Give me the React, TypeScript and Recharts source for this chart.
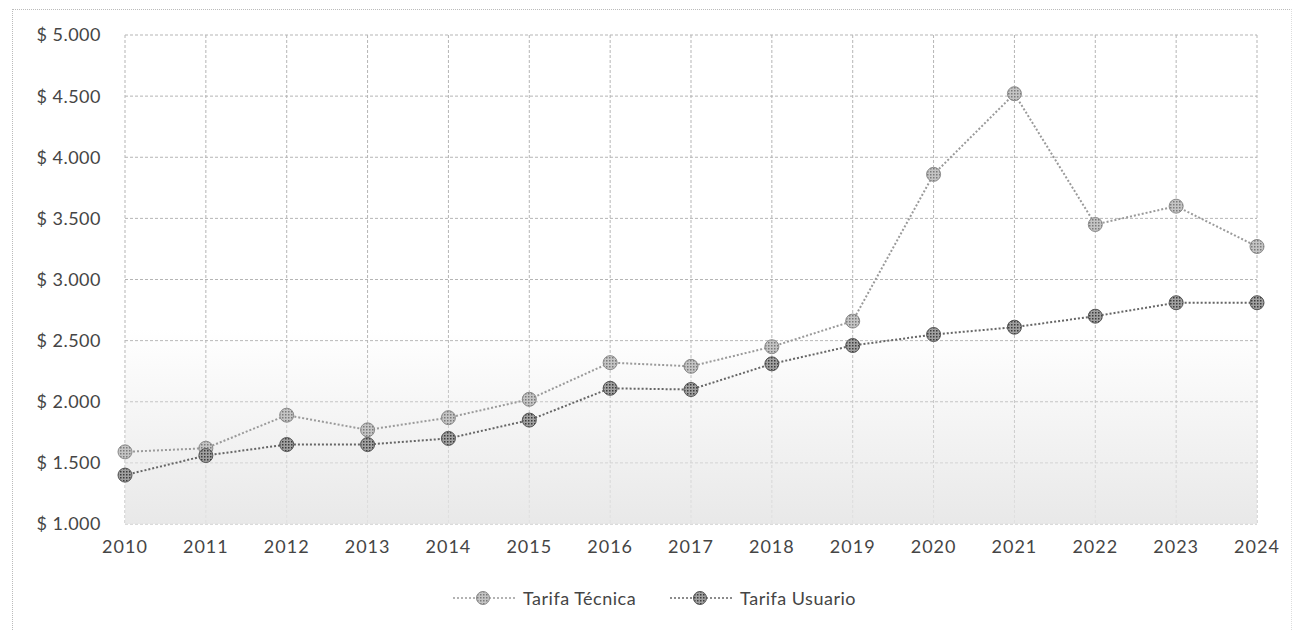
import React from 'react';
import { LineChart, Line, XAxis, YAxis, CartesianGrid, Legend, ReferenceArea } from 'recharts';

const years = ['2010', '2011', '2012', '2013', '2014', '2015', '2016', '2017', '2018', '2019', '2020', '2021', '2022', '2023', '2024'];
const tarifaTecnica = [1590, 1620, 1890, 1770, 1870, 2020, 2320, 2290, 2450, 2660, 3860, 4520, 3450, 3600, 3270];
const tarifaUsuario = [1400, 1560, 1650, 1650, 1700, 1850, 2110, 2100, 2310, 2460, 2550, 2610, 2700, 2810, 2810];
const yTicks = [1000, 1500, 2000, 2500, 3000, 3500, 4000, 4500, 5000];

const data = years.map((year, i) => ({
    year,
    tecnica: tarifaTecnica[i],
    usuario: tarifaUsuario[i],
}));

const FONT = 'Lato, "Liberation Sans", sans-serif';
const TEXT = '#454545';

// pesos with a dot as thousands separator: "$ 5.000"
const fmtPesos = (v: number) => `$ ${Math.floor(v / 1000)}.${String(v % 1000).padStart(3, '0')}`;

const legendItems = [
    { key: 'tecnica', label: 'Tarifa Técnica', fill: 'url(#pTec)', stroke: '#8a8a8a', line: '#9a9a9a' },
    { key: 'usuario', label: 'Tarifa Usuario', fill: 'url(#pUsu)', stroke: '#555', line: '#666' },
];

function LegendContent() {
    return (
        <div style={{ display: 'flex', alignItems: 'center', height: 24, fontFamily: FONT, fontSize: 18, color: TEXT, letterSpacing: 0.5 }}>
            {legendItems.map((item, i) => (
                <div key={item.key} style={{ display: 'flex', alignItems: 'center', marginLeft: i ? 34 : 0 }}>
                    <svg width={64} height={20}>
                        <line x1={0} y1={10} x2={64} y2={10} stroke={item.line} strokeWidth={1.5} strokeDasharray="2 2" />
                        <circle cx={30} cy={10} r={6.5} fill={item.fill} stroke={item.stroke} strokeWidth={1} />
                    </svg>
                    <span style={{ marginLeft: 6 }}>{item.label}</span>
                </div>
            ))}
        </div>
    );
}

export default function App() {
    return (
        <div style={{ position: 'absolute', left: 0, top: 0, width: 1297, height: 630, background: '#fff', fontFamily: FONT }}>
            <div style={{ position: 'absolute', left: 12, top: 9, width: 1278, height: 640, borderTop: '1px dotted #bbb', borderLeft: '1px dotted #bbb', borderRight: '1px dotted #ddd' }} />
            <LineChart width={1297} height={630} data={data} margin={{ top: 35, right: 40, left: 0, bottom: 0 }}>
                <defs>
                    <pattern id="pTec" width={3} height={3} patternUnits="userSpaceOnUse">
                        <rect width={3} height={3} fill="#c4c4c4" />
                        <rect width={1.5} height={1.5} fill="#7a7a7a" />
                    </pattern>
                    <pattern id="pUsu" width={3} height={3} patternUnits="userSpaceOnUse">
                        <rect width={3} height={3} fill="#a0a0a0" />
                        <rect width={1.5} height={1.5} fill="#3c3c3c" />
                    </pattern>
                    <linearGradient id="shade" x1="0" y1="0" x2="0" y2="1">
                        <stop offset="0%" stopColor="#e6e6e6" stopOpacity={0} />
                        <stop offset="100%" stopColor="#e6e6e6" stopOpacity={0.9} />
                    </linearGradient>
                </defs>
                <ReferenceArea y1={1000} y2={2600} fill="url(#shade)" fillOpacity={1} stroke="none" />
                <CartesianGrid stroke="#b5b5b5" strokeDasharray="3 2" />
                <XAxis
                    dataKey="year"
                    height={82}
                    axisLine={false}
                    tickLine={false}
                    tickMargin={10}
                    tick={{ fill: TEXT, fontSize: 18, fontFamily: FONT, letterSpacing: 1 }}
                    interval={0}
                />
                <YAxis
                    width={125}
                    domain={[1000, 5000]}
                    ticks={yTicks}
                    axisLine={false}
                    tickLine={false}
                    tickMargin={18}
                    tickFormatter={fmtPesos}
                    tick={{ fill: TEXT, fontSize: 18, fontFamily: FONT, letterSpacing: 0.5 }}
                />
                <Legend
                    verticalAlign="bottom"
                    content={<LegendContent />}
                    wrapperStyle={{ left: 453, top: 586, width: 450 }}
                />
                <Line
                    dataKey="tecnica"
                    name="Tarifa Técnica"
                    stroke="#9a9a9a"
                    strokeWidth={2}
                    strokeDasharray="2 2"
                    dot={{ r: 7, fill: 'url(#pTec)', stroke: '#8a8a8a', strokeWidth: 1, strokeDasharray: '' }}
                    isAnimationActive={false}
                />
                <Line
                    dataKey="usuario"
                    name="Tarifa Usuario"
                    stroke="#666"
                    strokeWidth={2}
                    strokeDasharray="2 2"
                    dot={{ r: 7, fill: 'url(#pUsu)', stroke: '#555', strokeWidth: 1, strokeDasharray: '' }}
                    isAnimationActive={false}
                />
            </LineChart>
        </div>
    );
}
